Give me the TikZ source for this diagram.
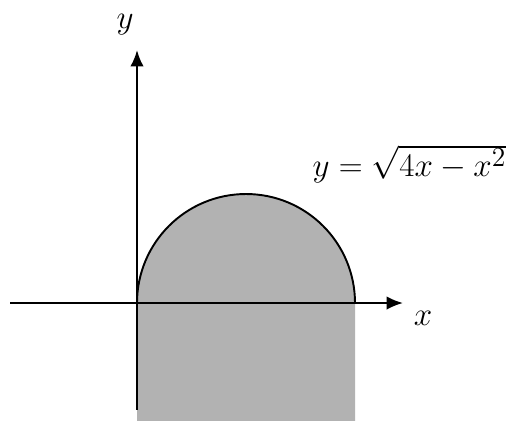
\documentclass[tikz,border=0pt]{standalone}
\usetikzlibrary{arrows.meta}
\begin{document}
\begin{tikzpicture}[x=1cm, y=1cm, >={Latex[length=8.5pt,width=7pt]}]
    \useasboundingbox (-2.514,-2.147) rectangle (6.881,5.56);

    % 填充区域: 半圆 y=sqrt(4x-x^2) 与下方矩形
    \fill[black!30] (0,-2.3)
        -- (0,0)
        arc[start angle=180, end angle=0, radius=2]
        -- (4,-2.3)
        -- cycle;

    % 半圆边界
    \draw[line width=1pt] (0,0) arc[start angle=180, end angle=0, radius=2];

    % 坐标轴
    \draw[->, line width=1pt] (-2.33,0) -- (4.88,0);
    \draw[->, line width=1pt] (0,-1.96) -- (0,4.64);
    \node (xlab) at (5.25,-0.28) {\LARGE $x$};
    \node (ylab) at (-0.22,5.1) {\LARGE $y$};

    % 曲线标签
    \node (curve) at (5.0,2.55) {\fontsize{19}{23}\selectfont $y=\sqrt{4x-x^2}$};
\end{tikzpicture}
\end{document}
